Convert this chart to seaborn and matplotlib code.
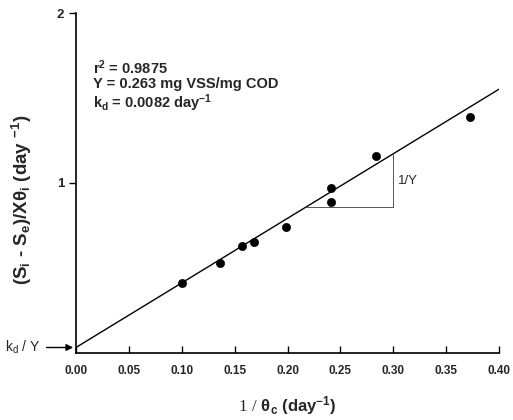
import numpy as np
import pandas as pd
import matplotlib
matplotlib.use("Agg")
import matplotlib.pyplot as plt
import seaborn as sns

# data
inv_theta_c = [0.100, 0.136, 0.157, 0.168, 0.199, 0.241, 0.241, 0.284, 0.372]
growth_rate = [0.41, 0.53, 0.63, 0.65, 0.74, 0.97, 0.89, 1.16, 1.39]
x_ticks = [0.00, 0.05, 0.10, 0.15, 0.20, 0.25, 0.30, 0.35, 0.40]
y_ticks = [1, 2]

yield_Y = 0.263
kd = 0.0082
intercept = kd / yield_Y
slope = 1 / yield_Y

sns.set_theme(style="white")
plt.rcParams['font.family'] = ['Liberation Sans', 'DejaVu Sans']
plt.rcParams['mathtext.default'] = 'regular'
plt.rcParams['mathtext.fontset'] = 'custom'
plt.rcParams['mathtext.rm'] = 'Liberation Serif'

df = pd.DataFrame({"x": inv_theta_c, "y": growth_rate})

fig = plt.figure(figsize=(5.13, 4.2), dpi=100)
ax = fig.add_axes([0.148, 0.16, 0.825, 0.809])

sns.scatterplot(data=df, x="x", y="y", color="black", s=35, edgecolor="black", ax=ax, zorder=3)

# fitted line
line_x = np.array([0.0, 0.40])
sns.lineplot(x=line_x, y=intercept + slope * line_x, color="black", lw=1.0, ax=ax)

# slope triangle
x0, x1 = 0.217, 0.300
y_base = intercept + slope * x0
ax.plot([x0, x1], [y_base, y_base], color="#555555", lw=0.7)
ax.plot([x1, x1], [y_base, intercept + slope * x1], color="#555555", lw=0.7)
ax.text(x1 + 0.004, (y_base + intercept + slope * x1) / 2, "1/Y", fontsize=9.5, va="center")

ax.set_xlim(0, 0.40)
ax.set_ylim(0, 2)
ax.set_xticks(x_ticks)
ax.set_xticklabels([f"{t:.2f}" for t in x_ticks], fontweight="bold", fontsize=8.5)
ax.set_yticks(y_ticks)
ax.set_yticklabels([str(t) for t in y_ticks], fontweight="bold", fontsize=9.5)
ax.tick_params(axis="x", direction="in", length=5, width=1, color="black", pad=9)
ax.tick_params(axis="y", direction="out", length=5, width=1, color="black")
ax.xaxis.set_ticks_position("bottom")
ax.yaxis.set_ticks_position("left")
sns.despine(ax=ax)
for sp in ["left", "bottom"]:
    ax.spines[sp].set_color("black")
    ax.spines[sp].set_linewidth(1.2)

ax.set_xlabel(r"$\mathrm{1\ /}$ $\theta_c$ (day$^{-1}$)", fontsize=12, fontweight="bold")
ax.xaxis.set_label_coords(0.5, -0.122)
ax.set_ylabel(r"(S$_i$ - S$_e$)/X$\theta_i$ (day $^{-1}$)", fontsize=13.5, fontweight="bold")
ax.yaxis.set_label_coords(-0.1, 0.45)

ax.text(0.016, 1.57, "r$^2$ = 0.9875\nY = 0.263 mg VSS/mg COD\nk$_d$ = 0.0082 day$^{-1}$",
        fontsize=10.5, fontweight="bold", va="center", linespacing=1.05)

ax.annotate("k$_d$ / Y", xy=(0, intercept), xytext=(-0.067, intercept),
            xycoords="data", textcoords="data", fontsize=10, va="center",
            arrowprops=dict(arrowstyle="-|>", color="black", lw=1), annotation_clip=False)

fig.savefig("out.png", dpi=100)
